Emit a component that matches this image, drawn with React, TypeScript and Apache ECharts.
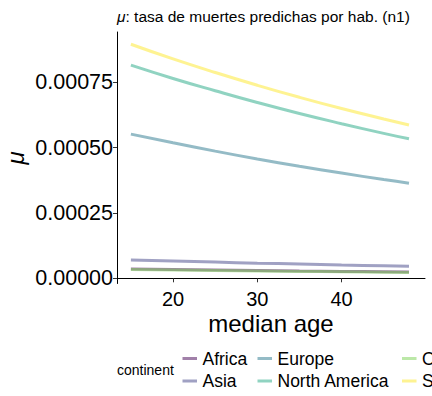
import React, { useEffect, useRef } from "react";
import * as echarts from "echarts";

const continents = ["Africa", "Asia", "Europe", "North America", "Oceania", "South America"];
const colors = ["#440154", "#414487", "#2A788E", "#22A884", "#7AD151", "#FDE725"];
const ages = [15, 20, 25, 30, 35, 40, 45, 48];

const africa = [0.000036, 0.000034, 0.000032, 0.00003, 0.000028, 0.0000265, 0.000025, 0.000024];
const asia = [0.00007, 0.000066, 0.000062, 0.000058, 0.0000545, 0.000051, 0.000048, 0.000046];
const europe = [0.000552, 0.000519, 0.000487, 0.000457, 0.000429, 0.000403, 0.000378, 0.000364];
const northAmerica = [0.000816, 0.000765, 0.000718, 0.000673, 0.000631, 0.000592, 0.000555, 0.000534];
const oceania = [0.000034, 0.000032, 0.00003, 0.000028, 0.0000265, 0.000025, 0.0000235, 0.0000225];
const southAmerica = [0.000896, 0.00084, 0.000788, 0.000739, 0.000693, 0.00065, 0.00061, 0.000587];

const seriesValues = [africa, asia, europe, northAmerica, oceania, southAmerica];

const xTicks = [20, 30, 40];
const yTicks = [0, 0.00025, 0.0005, 0.00075];
const yTickLabels = ["0.00000", "0.00025", "0.00050", "0.00075"];

const FONT = "Liberation Sans, Arial, sans-serif";

export default function App() {
  const ref = useRef<HTMLDivElement>(null);
  useEffect(() => {
    if (!ref.current) return;
    const chart = echarts.init(ref.current, null, { renderer: "svg" });
    const legendCols = [182.5, 257.5, 402];
    const legendRows = [358.5, 381];
    const legendGraphics: any[] = [];
    continents.forEach((c, i) => {
      const col = Math.floor(i / 2);
      const row = i % 2;
      const x = legendCols[col];
      const y = legendRows[row];
      legendGraphics.push({
        type: "line",
        shape: { x1: x, y1: y, x2: x + 14.5, y2: y },
        style: { stroke: colors[i], lineWidth: 3, opacity: 0.5 },
      });
      legendGraphics.push({
        type: "text",
        x: x + 20,
        y: y,
        style: {
          text: c,
          fill: "#000",
          font: `17.5px ${FONT}`,
          textAlign: "left",
          textVerticalAlign: "middle",
        },
      });
    });
    chart.setOption({
      animation: false,
      grid: { left: 117, right: 7, top: 32, bottom: 112.5 },
      xAxis: {
        type: "value",
        min: 13.35,
        max: 49.9,
        axisLine: { show: true, lineStyle: { color: "#000", width: 1 } },
        axisTick: { show: true, length: 4, lineStyle: { color: "#333" }, customValues: xTicks },
        axisLabel: {
          customValues: xTicks,
          color: "#000",
          fontSize: 20,
          fontFamily: FONT,
          margin: 5,
        },
        splitLine: { show: false },
      },
      yAxis: {
        type: "value",
        min: -0.0000199,
        max: 0.000943,
        axisLine: { show: true, lineStyle: { color: "#000", width: 1 } },
        axisTick: { show: true, length: 4, lineStyle: { color: "#333" }, customValues: yTicks },
        axisLabel: {
          customValues: yTicks,
          color: "#000",
          fontSize: 21.5,
          fontFamily: FONT,
          margin: 4,
          formatter: (v: number) => {
            const idx = yTicks.findIndex((t) => Math.abs(t - v) < 1e-9);
            return idx >= 0 ? yTickLabels[idx] : "";
          },
        },
        splitLine: { show: false },
      },
      series: continents.map((c, i) => ({
        name: c,
        type: "line",
        smooth: true,
        showSymbol: false,
        symbol: "none",
        data: ages.map((a, j) => [a, seriesValues[i][j]]),
        lineStyle: { color: colors[i], width: 3, opacity: 0.5 },
        itemStyle: { color: colors[i] },
      })),
      graphic: [
        {
          type: "text",
          x: 117,
          y: 16,
          style: {
            text: "{m|μ}: tasa de muertes predichas por hab. (n1)",
            rich: { m: { fontStyle: "italic", font: `italic 15.5px ${FONT}`, fill: "#000" } },
            fill: "#000",
            font: `15.5px ${FONT}`,
            textAlign: "left",
            textVerticalAlign: "middle",
          },
        },
        {
          type: "text",
          x: 271,
          y: 323,
          style: {
            text: "median age",
            fill: "#000",
            font: `24px ${FONT}`,
            textAlign: "center",
            textVerticalAlign: "middle",
          },
        },
        {
          type: "text",
          x: 15,
          y: 158,
          rotation: Math.PI / 2,
          style: {
            text: "μ",
            fill: "#000",
            font: `italic 24px ${FONT}`,
            textAlign: "center",
            textVerticalAlign: "middle",
          },
        },
        {
          type: "text",
          x: 117,
          y: 370,
          style: {
            text: "continent",
            fill: "#000",
            font: `14px ${FONT}`,
            textAlign: "left",
            textVerticalAlign: "middle",
          },
        },
        ...legendGraphics,
      ],
    });
    return () => chart.dispose();
  }, []);
  return (
    <div
      ref={ref}
      style={{ position: "absolute", left: 0, top: 0, width: 432, height: 396 }}
    />
  );
}
